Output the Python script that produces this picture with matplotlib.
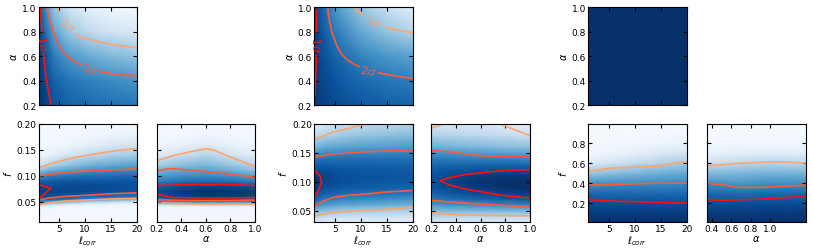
import numpy as np
import matplotlib
matplotlib.use("Agg")
import matplotlib.pyplot as plt

# ---- density grids (0 = white, 1 = darkest blue) ----
# columns are listed one x-node at a time, values go up in y

# group 1, l_corr vs alpha
g1_la_x = [1, 2, 4, 7, 11, 15, 20]
g1_la_y = [0.2, 0.4, 0.6, 0.8, 1.0]
g1_la_z = [[0.97, 0.96, 0.95, 0.92, 0.85],
           [0.95, 0.93, 0.90, 0.82, 0.70],
           [0.86, 0.81, 0.71, 0.55, 0.38],
           [0.81, 0.73, 0.59, 0.38, 0.18],
           [0.77, 0.69, 0.50, 0.26, 0.08],
           [0.75, 0.65, 0.45, 0.19, 0.04],
           [0.73, 0.61, 0.40, 0.14, 0.02]]

f_nodes_1 = [0.01, 0.04, 0.045, 0.05, 0.055, 0.06, 0.07, 0.08, 0.09, 0.10,
             0.11, 0.12, 0.14, 0.16, 0.18, 0.20]

# group 1, l_corr vs f
g1_lf_x = [1, 3, 6, 10, 15, 20]
g1_lf_z = [[0.02, 0.05, 0.35, 0.65, 0.82, 0.88, 0.93, 0.90, 0.80, 0.62, 0.40, 0.18, 0.04, 0.02, 0.02, 0.02],
           [0.02, 0.04, 0.25, 0.60, 0.80, 0.87, 0.93, 0.90, 0.82, 0.68, 0.50, 0.30, 0.08, 0.02, 0.02, 0.02],
           [0.02, 0.03, 0.15, 0.50, 0.75, 0.85, 0.92, 0.90, 0.84, 0.72, 0.56, 0.40, 0.15, 0.04, 0.02, 0.02],
           [0.02, 0.03, 0.08, 0.35, 0.68, 0.82, 0.90, 0.90, 0.85, 0.75, 0.62, 0.48, 0.24, 0.08, 0.03, 0.02],
           [0.02, 0.03, 0.06, 0.25, 0.60, 0.78, 0.88, 0.89, 0.85, 0.76, 0.65, 0.53, 0.32, 0.14, 0.05, 0.02],
           [0.02, 0.03, 0.05, 0.18, 0.52, 0.74, 0.86, 0.88, 0.85, 0.77, 0.67, 0.56, 0.36, 0.18, 0.07, 0.03]]

# group 1, alpha vs f
g1_af_x = [0.2, 0.4, 0.6, 0.8, 1.0]
g1_af_z = [[0.02, 0.04, 0.25, 0.55, 0.78, 0.86, 0.90, 0.82, 0.68, 0.58, 0.48, 0.35, 0.12, 0.03, 0.02, 0.02],
           [0.02, 0.04, 0.30, 0.65, 0.85, 0.92, 0.96, 0.88, 0.74, 0.63, 0.53, 0.43, 0.22, 0.07, 0.02, 0.02],
           [0.02, 0.04, 0.30, 0.70, 0.90, 0.96, 1.00, 0.92, 0.76, 0.65, 0.56, 0.47, 0.30, 0.12, 0.04, 0.02],
           [0.02, 0.04, 0.30, 0.68, 0.88, 0.95, 0.98, 0.90, 0.74, 0.62, 0.50, 0.40, 0.20, 0.07, 0.03, 0.02],
           [0.02, 0.04, 0.28, 0.62, 0.84, 0.92, 0.95, 0.86, 0.70, 0.56, 0.42, 0.30, 0.10, 0.04, 0.02, 0.02]]

# group 2, l_corr vs alpha
g2_la_x = [1, 2, 5, 10, 15, 20]
g2_la_y = [0.2, 0.4, 0.6, 0.8, 1.0]
g2_la_z = [[0.98, 0.98, 0.97, 0.96, 0.95],
           [0.95, 0.93, 0.91, 0.88, 0.85],
           [0.90, 0.86, 0.80, 0.72, 0.60],
           [0.85, 0.78, 0.68, 0.52, 0.38],
           [0.82, 0.73, 0.60, 0.40, 0.22],
           [0.80, 0.70, 0.55, 0.30, 0.10]]

f_nodes_2 = [0.03, 0.04, 0.05, 0.06, 0.07, 0.08, 0.09, 0.10, 0.11, 0.12,
             0.13, 0.14, 0.15, 0.16, 0.18, 0.20]

# group 2, l_corr vs f
g2_lf_x = [1, 3, 6, 10, 15, 20]
g2_lf_z = [[0.12, 0.28, 0.45, 0.65, 0.80, 0.90, 0.96, 1.00, 0.96, 0.90, 0.82, 0.72, 0.60, 0.45, 0.25, 0.10],
           [0.12, 0.25, 0.42, 0.58, 0.72, 0.82, 0.88, 0.92, 0.92, 0.88, 0.82, 0.74, 0.64, 0.52, 0.32, 0.16],
           [0.10, 0.22, 0.38, 0.54, 0.68, 0.78, 0.85, 0.88, 0.88, 0.86, 0.81, 0.75, 0.66, 0.55, 0.37, 0.22],
           [0.10, 0.20, 0.36, 0.52, 0.66, 0.76, 0.83, 0.86, 0.87, 0.85, 0.81, 0.75, 0.67, 0.57, 0.40, 0.26],
           [0.10, 0.20, 0.34, 0.50, 0.64, 0.75, 0.82, 0.85, 0.86, 0.84, 0.80, 0.75, 0.67, 0.58, 0.42, 0.28],
           [0.10, 0.18, 0.32, 0.48, 0.62, 0.73, 0.80, 0.84, 0.85, 0.83, 0.80, 0.75, 0.68, 0.59, 0.44, 0.30]]

# group 2, alpha vs f
g2_af_x = [0.2, 0.4, 0.6, 0.8, 1.0]
g2_af_z = [[0.15, 0.30, 0.45, 0.60, 0.72, 0.80, 0.85, 0.87, 0.86, 0.83, 0.78, 0.72, 0.62, 0.50, 0.32, 0.15],
           [0.14, 0.28, 0.45, 0.62, 0.76, 0.86, 0.92, 0.94, 0.92, 0.86, 0.79, 0.70, 0.60, 0.48, 0.30, 0.15],
           [0.13, 0.27, 0.45, 0.64, 0.80, 0.90, 0.96, 0.98, 0.95, 0.88, 0.79, 0.69, 0.58, 0.46, 0.28, 0.14],
           [0.12, 0.26, 0.46, 0.66, 0.83, 0.93, 0.99, 1.00, 0.97, 0.89, 0.79, 0.68, 0.56, 0.44, 0.25, 0.12],
           [0.12, 0.26, 0.46, 0.68, 0.85, 0.95, 1.00, 1.00, 0.97, 0.89, 0.78, 0.66, 0.54, 0.42, 0.22, 0.10]]

# group 3, l_corr vs alpha (flat)
g3_la_x = [1, 20]
g3_la_y = [0.2, 1.0]
g3_la_z = [[1.0, 1.0], [1.0, 1.0]]

f_nodes_3 = [0.01, 0.1, 0.2, 0.3, 0.4, 0.5, 0.6, 0.7, 0.8, 0.99]

# group 3, l_corr vs f
g3_lf_x = [1, 5, 10, 15, 20]
g3_lf_z = [[1.00, 0.95, 0.88, 0.78, 0.62, 0.38, 0.12, 0.03, 0.02, 0.01],
           [1.00, 0.95, 0.88, 0.78, 0.63, 0.42, 0.18, 0.05, 0.02, 0.01],
           [1.00, 0.95, 0.88, 0.78, 0.64, 0.46, 0.25, 0.09, 0.03, 0.01],
           [1.00, 0.95, 0.88, 0.78, 0.65, 0.49, 0.31, 0.14, 0.04, 0.01],
           [1.00, 0.95, 0.88, 0.78, 0.66, 0.52, 0.36, 0.19, 0.06, 0.01]]

# group 3, alpha vs f
g3_af_x = [0.35, 0.7, 1.0, 1.36]
g3_af_z = [[1.00, 0.95, 0.88, 0.78, 0.64, 0.44, 0.22, 0.07, 0.02, 0.01],
           [1.00, 0.96, 0.88, 0.76, 0.60, 0.46, 0.28, 0.10, 0.03, 0.01],
           [1.00, 0.96, 0.89, 0.78, 0.63, 0.48, 0.30, 0.12, 0.03, 0.01],
           [1.00, 0.96, 0.89, 0.78, 0.63, 0.47, 0.28, 0.10, 0.03, 0.01]]

# ---- contour lines (sigma level, x points, y points) ----
g1_la_lines = [
    (1, [1.32, 1.55, 1.70], [1.0, 0.86, 0.79]),
    (1, [1.95, 2.1, 2.42, 2.9, 3.45], [0.63, 0.55, 0.44, 0.32, 0.2]),
    (2, [2.6, 3.0, 3.9, 4.8, 5.8, 7.0, 8.4, 9.5], [1.0, 0.92, 0.79, 0.70, 0.63, 0.58, 0.545, 0.523]),
    (2, [12.8, 14.5, 16.1, 18.0, 20.0], [0.472, 0.46, 0.451, 0.444, 0.438]),
    (3, [4.5, 5.1], [1.0, 0.955]),
    (3, [8.2, 9.3, 11.0, 13.0, 14.9, 17.5, 20.0], [0.78, 0.75, 0.735, 0.713, 0.695, 0.68, 0.668]),
]
g1_la_labels = [(1, 1.85, 0.71, -85), (2, 11.1, 0.497, -16), (3, 6.6, 0.865, -40)]

g1_lf_lines = [
    (3, [1, 3, 5, 7.5, 10, 12.5, 15, 17.5, 19, 20], [0.115, 0.122, 0.128, 0.134, 0.139, 0.143, 0.147, 0.150, 0.152, 0.151]),
    (2, [1, 3, 6, 10, 15, 20], [0.099, 0.103, 0.106, 0.109, 0.111, 0.113]),
    (1, [1, 2.0, 3.4, 2.6, 1.8, 1.0], [0.083, 0.080, 0.076, 0.069, 0.062, 0.056]),
    (2, [1, 3, 6, 10, 15, 20], [0.053, 0.057, 0.060, 0.062, 0.065, 0.067]),
    (3, [1, 3, 6, 10, 15, 20], [0.043, 0.048, 0.051, 0.053, 0.055, 0.056]),
]

g1_af_lines = [
    (3, [0.2, 0.34, 0.47, 0.6, 0.66, 0.8, 1.0], [0.129, 0.139, 0.146, 0.152, 0.150, 0.136, 0.118]),
    (2, [0.2, 0.32, 0.52, 0.8, 1.0], [0.110, 0.114, 0.110, 0.103, 0.097]),
    (1, [0.2, 0.5, 0.8, 1.0], [0.081, 0.083, 0.083, 0.081]),
    (1, [0.2, 0.25, 0.32, 0.5, 0.8, 1.0], [0.064, 0.062, 0.058, 0.057, 0.057, 0.058]),
    (2, [0.2, 0.4, 0.6, 0.8, 1.0], [0.054, 0.052, 0.052, 0.052, 0.053]),
    (3, [0.2, 0.4, 0.6, 0.8, 1.0], [0.047, 0.046, 0.045, 0.045, 0.045]),
]

g2_la_lines = [
    (1, [1.5, 1.47], [0.98, 0.79]),
    (1, [1.43, 1.38, 1.3, 1.2], [0.61, 0.5, 0.38, 0.27]),
    (2, [3.6, 3.9, 4.4, 5.2, 6.2, 7.5, 8.8, 9.8], [1.0, 0.9, 0.8, 0.7, 0.62, 0.565, 0.53, 0.512]),
    (2, [13.2, 14.5, 16.5, 18.5, 20.0], [0.465, 0.453, 0.438, 0.425, 0.418]),
    (3, [8.5, 9.6, 10.4], [1.0, 0.96, 0.937]),
    (3, [14.6, 16.0, 17.8, 20.0], [0.84, 0.822, 0.805, 0.789]),
]
g2_la_labels = [(1, 1.45, 0.70, -88), (2, 11.5, 0.487, -12), (3, 12.5, 0.885, -20)]

g2_lf_lines = [
    (3, [1, 4.7, 7.9, 11.1], [0.173, 0.186, 0.193, 0.2]),
    (2, [1, 4.7, 11, 17, 20], [0.143, 0.148, 0.152, 0.154, 0.154]),
    (1, [1, 2.15, 2.47, 1.83, 1.0], [0.122, 0.110, 0.100, 0.084, 0.071]),
    (2, [1, 2.8, 4.7, 7.9, 11.1, 14.3, 20], [0.057, 0.067, 0.073, 0.077, 0.079, 0.082, 0.085]),
    (3, [1, 4.7, 11, 17, 19.4, 20], [0.041, 0.047, 0.051, 0.053, 0.056, 0.057]),
]

g2_af_lines = [
    (3, [0.2, 0.3], [0.1925, 0.2]),
    (3, [0.76, 0.865, 1.0], [0.2, 0.191, 0.18]),
    (2, [0.2, 0.354, 0.488, 0.623, 0.758, 1.0], [0.154, 0.152, 0.148, 0.145, 0.144, 0.144]),
    (1, [1.0, 0.758, 0.49, 0.354, 0.273, 0.354, 0.49, 0.758, 1.0],
        [0.121, 0.119, 0.113, 0.1075, 0.102, 0.094, 0.087, 0.077, 0.072]),
    (2, [0.2, 0.354, 0.49, 0.758, 1.0], [0.068, 0.065, 0.063, 0.0595, 0.057]),
    (3, [0.2, 0.354, 0.62, 1.0], [0.047, 0.044, 0.042, 0.041]),
]

g3_lf_lines = [
    (3, [1, 4.9, 8, 11.3, 14.5, 17.7, 20], [0.517, 0.547, 0.555, 0.563, 0.573, 0.6, 0.613]),
    (2, [1, 8.1, 14.5, 20], [0.38, 0.39, 0.40, 0.40]),
    (1, [1, 1.7, 4.9, 11.3, 20], [0.263, 0.23, 0.223, 0.213, 0.2]),
]

g3_af_lines = [
    (3, [0.35, 0.71, 1.05, 1.22, 1.36], [0.573, 0.6, 0.613, 0.607, 0.6]),
    (2, [0.35, 0.54, 0.675, 0.88, 1.36], [0.40, 0.38, 0.357, 0.357, 0.38]),
    (1, [0.35, 0.54, 0.88, 1.36], [0.233, 0.23, 0.24, 0.267]),
]

sigma_colors = {1: "#ff1010", 2: "#ff5a36", 3: "#ffa46c"}

W, H = 813, 251
fig = plt.figure(figsize=(W / 100, H / 100), dpi=100)


def add_ax(l, r, t, b):
    return fig.add_axes([l / W, 1 - b / H, (r - l) / W, (b - t) / H])


def draw(ax, xs, ys, cols, lines, labels=()):
    z = np.array(cols).T
    ax.pcolormesh(xs, ys, z, shading="gouraud", cmap="Blues", vmin=0, vmax=1)
    for lev, lx, ly in lines:
        ax.plot(lx, ly, color=sigma_colors[lev], lw=1.2, solid_capstyle="butt")
    for lev, tx, ty, rot in labels:
        ax.text(tx, ty, f"{lev}$\\sigma$", color=sigma_colors[lev], fontsize=8,
                rotation=rot, ha="center", va="center", rotation_mode="anchor")


def style(ax, xlim, ylim, xticks, yticks, xlab=True, ylab=True):
    ax.set_xlim(*xlim)
    ax.set_ylim(*ylim)
    ax.set_xticks(xticks)
    ax.set_yticks(yticks)
    ax.tick_params(direction="in", top=True, right=True, length=3, width=0.8,
                   labelsize=6.5, pad=1.5, labelbottom=xlab, labelleft=ylab)
    for s in ax.spines.values():
        s.set_linewidth(0.8)


groups = [
    dict(x0=38.5, x1=136.7, bx0=156.5, bx1=255,
         la=(g1_la_x, g1_la_y, g1_la_z, g1_la_lines, g1_la_labels),
         lf=(g1_lf_x, f_nodes_1, g1_lf_z, g1_lf_lines),
         af=(g1_af_x, f_nodes_1, g1_af_z, g1_af_lines),
         flim=(0.01, 0.20), fticks=[0.05, 0.10, 0.15, 0.20],
         alim=(0.2, 1.0), aticks=[0.2, 0.4, 0.6, 0.8, 1.0]),
    dict(x0=314, x1=413, bx0=431, bx1=530,
         la=(g2_la_x, g2_la_y, g2_la_z, g2_la_lines, g2_la_labels),
         lf=(g2_lf_x, f_nodes_2, g2_lf_z, g2_lf_lines),
         af=(g2_af_x, f_nodes_2, g2_af_z, g2_af_lines),
         flim=(0.03, 0.20), fticks=[0.05, 0.10, 0.15, 0.20],
         alim=(0.2, 1.0), aticks=[0.2, 0.4, 0.6, 0.8, 1.0]),
    dict(x0=588, x1=687, bx0=706.7, bx1=805.5,
         la=(g3_la_x, g3_la_y, g3_la_z, [], []),
         lf=(g3_lf_x, f_nodes_3, g3_lf_z, g3_lf_lines),
         af=(g3_af_x, f_nodes_3, g3_af_z, g3_af_lines),
         flim=(0.01, 0.99), fticks=[0.2, 0.4, 0.6, 0.8],
         alim=(0.35, 1.36), aticks=[0.4, 0.6, 0.8, 1.0]),
]

lticks = [5, 10, 15, 20]
for g in groups:
    # top: l_corr vs alpha
    ax = add_ax(g["x0"], g["x1"], 8, 106)
    xs, ys, zc, ln, lb = g["la"]
    draw(ax, xs, ys, zc, ln, lb)
    style(ax, (1, 20), (0.2, 1.0), lticks, [0.2, 0.4, 0.6, 0.8, 1.0], xlab=False)
    ax.set_ylabel(r"$\alpha$", fontsize=7, labelpad=2)

    # bottom left: l_corr vs f
    ax = add_ax(g["x0"], g["x1"], 125, 223.3)
    xs, ys, zc, ln = g["lf"]
    draw(ax, xs, ys, zc, ln)
    style(ax, (1, 20), g["flim"], lticks, g["fticks"])
    ax.set_xlabel(r"$\ell_{corr}$", fontsize=7, labelpad=0)
    ax.set_ylabel(r"$f$", fontsize=7, labelpad=2)

    # bottom right: alpha vs f
    ax = add_ax(g["bx0"], g["bx1"], 125, 223.3)
    xs, ys, zc, ln = g["af"]
    draw(ax, xs, ys, zc, ln)
    style(ax, g["alim"], g["flim"], g["aticks"], g["fticks"], ylab=False)
    ax.set_xlabel(r"$\alpha$", fontsize=7, labelpad=0)

fig.savefig("out.png", dpi=100)
